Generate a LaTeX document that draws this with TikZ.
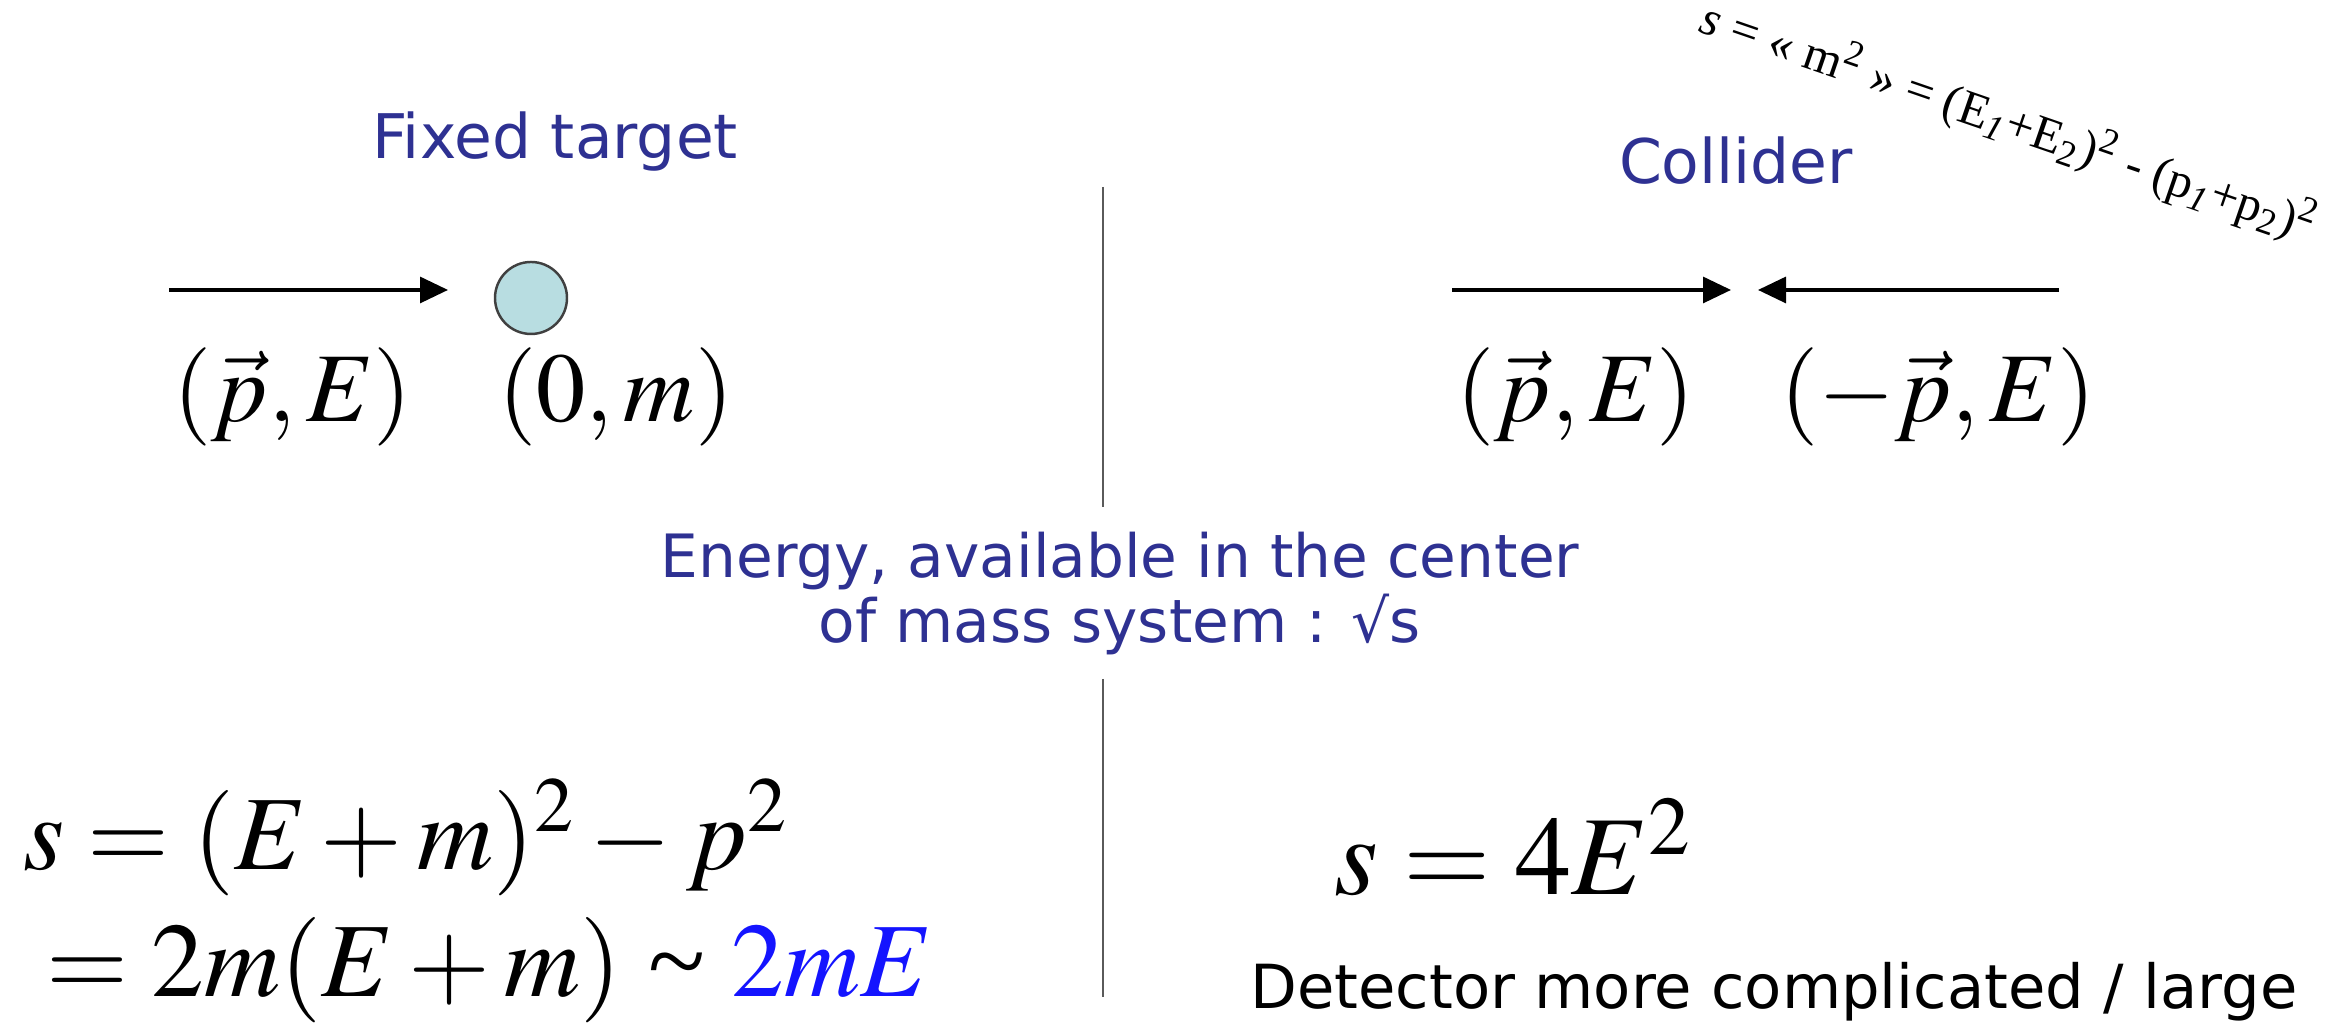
\documentclass[tikz,border=0pt]{standalone}
\usepackage{mathptmx}
\usepackage[no-math]{fontspec}
\setmainfont{Liberation Serif}
\newfontfamily\handfont{DejaVu Sans}
\usepackage{xcolor}
\usetikzlibrary{arrows.meta}
\definecolor{titleblue}{RGB}{46,49,146}
\definecolor{massblue}{RGB}{20,20,255}
\definecolor{targetfill}{RGB}{184,221,225}
\definecolor{sepgray}{RGB}{90,90,90}

\begin{document}
\begin{tikzpicture}[line width=0.8pt,
  beam/.style={line width=0.9pt,-{Triangle[length=0.28cm,width=0.26cm]}},
  title/.style={text=titleblue,inner sep=0pt,font=\handfont\fontsize{17.5}{17.5}\selectfont},
  kin/.style={anchor=base west,inner sep=0pt,font=\fontsize{28}{30}\selectfont},
  eq/.style={anchor=base west,inner sep=0pt,font=\fontsize{30}{32}\selectfont}]
\useasboundingbox (0,0) rectangle (23.4,10.29);
% headings
\node[title] (fixed) at (5.55,8.87) {Fixed target};
\node[title] (coll) at (17.36,8.68) {Collider};
\node[rotate=-19,inner sep=0pt,font=\fontsize{14}{14}\selectfont] (sdef) at (20.09,9.07)
  {\textit{s} = « m\textsuperscript{2} » = (E\textsubscript{\textit{1}}+E\textsubscript{2})\textsuperscript{2} - (p\textsubscript{\textit{1}}+p\textsubscript{2})\textsuperscript{2}};
% separator
\coordinate (septop) at (11.03,8.42); \coordinate (sepmid) at (11.03,5.22);
\coordinate (seplow) at (11.03,3.50); \coordinate (sepbot) at (11.03,0.32);
\draw[sepgray,line width=0.6pt] (septop)--(sepmid);
\draw[sepgray,line width=0.6pt] (seplow)--(sepbot);
% fixed target
\coordinate (ftail) at (1.69,7.39); \coordinate (fhead) at (4.48,7.39);
\draw[beam] (ftail)--(fhead);
\node[circle,draw=black!75,fill=targetfill,line width=0.7pt,minimum size=0.72cm,inner sep=0pt] (target) at (5.31,7.31) {};
\node[kin] (beamkin) at (1.72,6.07) {$(\vec{p},E)$};
\node[kin] (targkin) at (4.97,6.07) {$(0,m)$};
% collider
\coordinate (ltail) at (14.52,7.39); \coordinate (lhead) at (17.31,7.39);
\coordinate (rtail) at (20.59,7.39); \coordinate (rhead) at (17.58,7.39);
\draw[beam] (ltail)--(lhead);
\draw[beam] (rtail)--(rhead);
\node[kin] (leftkin) at (14.55,6.07) {$(\vec{p},E)$};
\node[kin] (rightkin) at (17.79,6.07) {$(-\vec{p},E)$};
% centre of mass energy
\node[title,align=center,font=\handfont\fontsize{17}{18.5}\selectfont] (ecm) at (11.2,4.35)
  {Energy, available in the center\\of mass system : √s};
% results
\node[eq] (sfix) at (0.22,1.59) {$s=(E+m)^2-p^2$};
\node[eq] (sfix2) at (0.45,0.32) {$=2m(E+m)$ \textasciitilde{} \textcolor{massblue}{$2mE$}};
\node[anchor=base west,inner sep=0pt,font=\fontsize{32}{34}\selectfont] (scoll) at (13.33,1.34) {$s=4E^2$};
\node[inner sep=0pt,font=\handfont\fontsize{17.3}{17.3}\selectfont] (detector) at (17.74,0.37) {Detector more complicated / large};
\end{tikzpicture}
\end{document}
